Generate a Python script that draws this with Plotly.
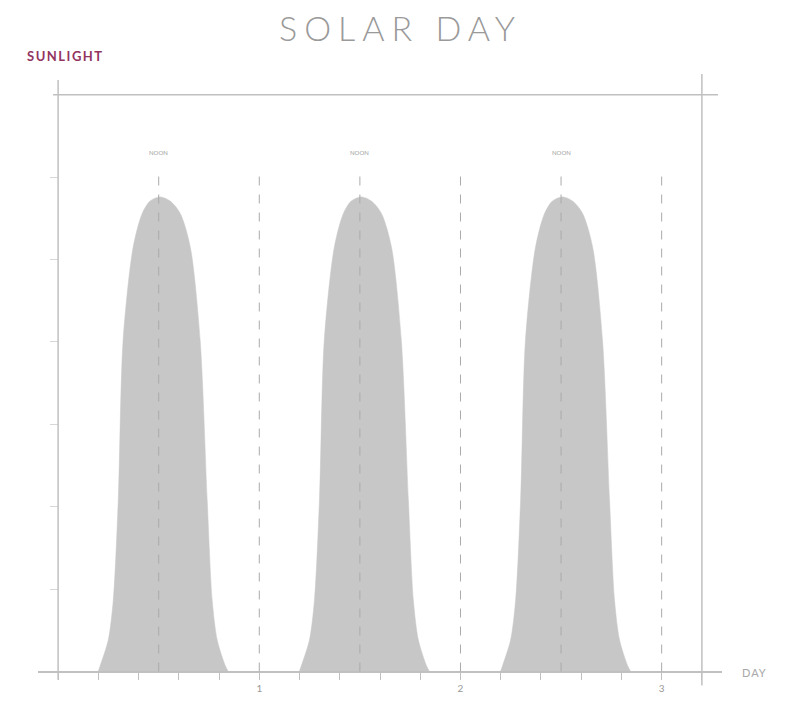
import plotly.graph_objects as go

# ---- data ----
day_starts = [0, 1, 2]
# position within a day (fraction of day) and sunlight level for one solar day
day_fraction = [0.199, 0.209, 0.249, 0.274, 0.299, 0.323, 0.373, 0.418, 0.457, 0.507,
                0.557, 0.607, 0.657, 0.706, 0.741, 0.766, 0.791, 0.831, 0.846]
sunlight = [0.0, 0.07, 0.38, 0.86, 2.08, 4.02, 5.15, 5.56, 5.71, 5.76,
            5.71, 5.56, 5.15, 4.02, 2.08, 0.86, 0.38, 0.07, 0.0]
noon_days = [0.5, 1.5, 2.5]
day_marks = [1, 2, 3]
x_tick_vals = [0, 0.2, 0.4, 0.6, 0.8, 1, 1.2, 1.4, 1.6, 1.8, 2, 2.2, 2.4, 2.6, 2.8, 3, 3.2]
x_tick_text = ["", "", "", "", "", "1", "", "", "", "", "2", "", "", "", "", "3", ""]
y_tick_vals = [1, 2, 3, 4, 5, 6]

FILL = "rgb(199,199,199)"
LINE = "rgb(192,192,192)"
DASH = "rgb(170,170,170)"

fig = go.Figure()
for d in day_starts:
    fig.add_trace(go.Scatter(
        x=[d + t for t in day_fraction], y=sunlight,
        mode="lines", line=dict(width=0.5, color=FILL, shape="spline", smoothing=0.8),
        fill="tozeroy", fillcolor=FILL, hoverinfo="skip", showlegend=False))

shapes = []
# frame lines
shapes.append(dict(type="line", xref="x", yref="y", x0=0, x1=0, y0=-0.1, y1=7.18,
                   line=dict(color=LINE, width=1.5), layer="above"))
shapes.append(dict(type="line", xref="x", yref="y", x0=-0.025, x1=3.28, y0=7, y1=7,
                   line=dict(color=LINE, width=1.5), layer="above"))
shapes.append(dict(type="line", xref="x", yref="y", x0=3.2, x1=3.2, y0=-0.17, y1=7.25,
                   line=dict(color=LINE, width=1.5), layer="above"))
for n in noon_days:
    shapes.append(dict(type="line", xref="x", yref="y", x0=n, x1=n, y0=0, y1=6.05,
                       line=dict(color=DASH, width=1, dash="dash"), layer="above"))
for m in day_marks:
    shapes.append(dict(type="line", xref="x", yref="y", x0=m, x1=m, y0=0, y1=6.05,
                       line=dict(color=DASH, width=1, dash="dash"), layer="above"))

annotations = []
for n in noon_days:
    annotations.append(dict(x=n, y=6.3, xref="x", yref="y", text="NOON", showarrow=False,
                            font=dict(size=6, color="#a0a0a0", family="Lato")))
annotations.append(dict(x=0.0395, y=1.0227, xref="paper", yref="paper",
                        text='<span style="letter-spacing:1.5px"><b>SUNLIGHT</b></span>',
                        showarrow=False, xanchor="center", yanchor="middle",
                        font=dict(size=13, color="#92345f", family="Lato")))
annotations.append(dict(x=1.048, y=0.0243, xref="paper", yref="paper",
                        text='<span style="letter-spacing:1px">DAY</span>',
                        showarrow=False, xanchor="center", yanchor="middle",
                        font=dict(size=11, color="#a8a8a8", family="Lato")))

fig.update_layout(
    width=796, height=701,
    margin=dict(l=30, r=82, t=62, b=21),
    paper_bgcolor="white", plot_bgcolor="white",
    title=dict(text='<span style="letter-spacing:7px">SOLAR DAY</span>',
               x=0.53, xanchor="center", xref="paper",
               y=1 - 21 / 701, yanchor="middle",
               font=dict(size=34, color="#9a9a9a", family="Lato", weight=300)),
    xaxis=dict(range=[-0.1, 3.3], anchor="free", position=0.2 / 7.5,
               showline=True, linecolor=LINE, linewidth=1.5,
               showgrid=False, zeroline=False,
               tickmode="array", tickvals=x_tick_vals, ticktext=x_tick_text,
               ticks="outside", ticklen=8, tickcolor=LINE, tickwidth=1,
               tickfont=dict(size=10, color="#999999", family="Lato")),
    yaxis=dict(range=[-0.2, 7.3], anchor="free", position=0.1 / 3.4,
               showline=False, showgrid=False, zeroline=False,
               tickmode="array", tickvals=y_tick_vals, showticklabels=False,
               ticks="outside", ticklen=8, tickcolor="rgb(215,215,215)", tickwidth=1),
    shapes=shapes, annotations=annotations,
)

fig.write_html("out.html")
